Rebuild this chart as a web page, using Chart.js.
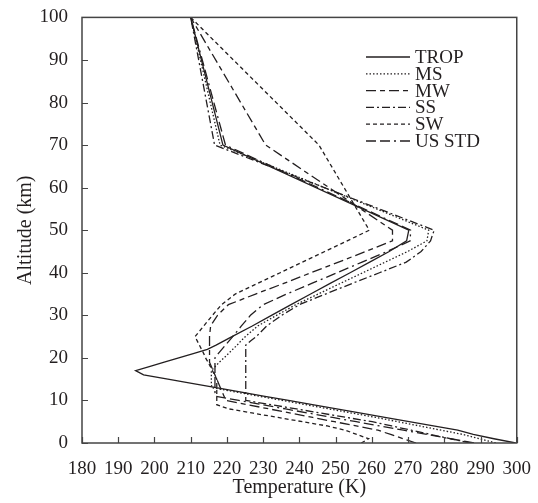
<!DOCTYPE html>
<html>
<head>
<meta charset="utf-8">
<script src="https://cdn.jsdelivr.net/npm/chart.js@4.4.1/dist/chart.umd.min.js"></script>
<style>
  body { margin: 0; background: #fff; }
  canvas { display: block; }
</style>
</head>
<body>
<canvas id="_canvasc" width="538" height="503"></canvas>
<script>
	// ******************************************************** DATA

	var altitudes = [0,1,2,3,4,5,6,7,8,9,10,11,12,13,14,15,16,17,18,19,20,21,22,23,24,25,
		27.5,30,32.5,35,37.5,40,42.5,45,47.5,50,70,100];

	var trop  = [299.7,293.7,288.0,283.7,277.0,270.3,263.6,257.0,250.3,243.6,237.0,230.1,223.6,217.0,210.3,203.7,197.0,194.8,198.8,202.7,
		206.7,210.7,214.6,217.0,219.2,221.4,227.0,232.3,237.7,243.1,248.5,254.0,259.4,264.8,269.6,270.2,218.9,210];
	var ms    = [294.2,289.7,285.2,279.2,273.2,267.2,261.2,254.7,248.2,241.7,235.3,228.8,222.3,215.8,215.7,215.7,215.7,215.7,216.8,217.9,
		219.2,220.4,221.6,222.8,223.9,225.1,228.5,233.7,239.0,245.2,251.3,257.5,263.7,269.9,275.2,275.7,218.1,210];
	var mw    = [272.2,268.7,265.2,261.7,255.7,249.7,243.7,237.7,231.7,225.7,219.7,219.2,218.7,218.2,217.7,217.2,216.7,216.2,215.7,215.2,
		215.2,215.2,215.2,215.2,215.2,215.2,215.5,217.4,220.4,227.9,235.7,243.2,250.8,258.3,265.7,265.7,230.7,210];
	var ss    = [287.2,281.7,276.3,270.9,265.5,260.1,253.1,246.1,239.2,232.2,225.2,225.2,225.2,225.2,225.2,225.2,225.2,225.2,225.2,225.2,
		225.2,225.2,225.2,225.2,226.6,228.1,231.0,235.1,240.0,247.2,254.6,262.1,269.5,273.6,276.2,277.2,216.6,210];
	var sw    = [257.1,259.1,255.9,252.7,247.7,240.9,234.1,227.3,220.6,217.2,217.2,217.2,217.2,217.2,217.2,217.2,216.6,216.0,215.4,214.8,
		214.1,213.6,213.0,212.4,211.8,211.2,213.6,216.0,218.5,222.3,228.5,234.7,240.8,247.0,253.2,259.3,245.4,210];
	var usstd = [288.2,281.7,275.2,268.7,262.2,255.7,249.2,242.7,236.2,229.7,223.3,216.8,216.7,216.7,216.7,216.7,216.7,216.7,216.7,216.7,
		216.7,217.6,218.6,219.6,220.6,221.6,224.0,226.5,230.0,236.5,243.4,250.4,257.3,264.2,270.6,270.7,219.6,210];

	var seriesNames = ["TROP","MS","MW","SS","SW","US STD"];
	var seriesTemps = [trop, ms, mw, ss, sw, usstd];
	var seriesDash  = [[], [1.5,2], [10,4,5,4], [8,3,2,3], [4,3], [10,4,10,4,2,4]];

	var ink = "#231f20";
	var font = "Liberation Serif";

	// ******************************************************** PLUGIN (frame, inward ticks, legend)

	var framePlugin = {
		id: 'frame',
		afterDraw: function(chart) {
			var ctx = chart.ctx, a = chart.chartArea;
			var sx = chart.scales.x, sy = chart.scales.y;
			ctx.save();
			ctx.strokeStyle = "#444";
			ctx.lineWidth = 1.5;
			ctx.strokeRect(a.left, a.top, a.right - a.left, a.bottom - a.top);

			ctx.lineWidth = 1.2;
			ctx.beginPath();
			sx.ticks.forEach(function(t) {
				var px = Math.round(sx.getPixelForValue(t.value)) + 0.5;
				ctx.moveTo(px, a.bottom); ctx.lineTo(px, a.bottom - 6);
			});
			sy.ticks.forEach(function(t) {
				var py = Math.round(sy.getPixelForValue(t.value)) + 0.5;
				ctx.moveTo(a.left, py); ctx.lineTo(a.left + 6, py);
			});
			ctx.stroke();

			// legend
			ctx.font = "19px '" + font + "'";
			ctx.textBaseline = "middle";
			ctx.fillStyle = ink;
			chart.data.datasets.forEach(function(ds, i) {
				var y = 57 + i * 16.8;
				ctx.strokeStyle = ink;
				ctx.lineWidth = 1.3;
				ctx.setLineDash(ds.borderDash);
				ctx.beginPath();
				ctx.moveTo(366, y); ctx.lineTo(410, y);
				ctx.stroke();
				ctx.setLineDash([]);
				ctx.fillText(ds.label, 415, y + 1);
			});
			ctx.restore();
		}
	};

	// ******************************************************** CHART

	var datasets = seriesNames.map(function(name, i) {
		return {
			label: name,
			data: altitudes.map(function(h, k) { return { x: seriesTemps[i][k], y: h }; }),
			borderColor: ink,
			borderWidth: 1.3,
			borderDash: seriesDash[i],
			pointRadius: 0,
			fill: false,
			tension: 0
		};
	});

	var config = {
		type: 'line',
		data: { datasets: datasets },
		options: {
			responsive: false,
			animation: false,
			layout: { padding: { top: 15, right: 17, left: 0, bottom: 0 } },
			plugins: { legend: { display: false }, tooltip: { enabled: false } },
			scales: {
				x: {
					type: 'linear', min: 180, max: 300,
					grid: { display: false }, border: { display: false },
					ticks: { stepSize: 10, padding: 7, color: ink, font: { family: font, size: 19 }, maxRotation: 0 },
					title: { display: true, text: 'Temperature (K)', color: ink, font: { family: font, size: 20 }, padding: { top: 0, bottom: 3 } },
					afterFit: function(s) { s.height = 60; }
				},
				y: {
					type: 'linear', min: 0, max: 100,
					grid: { display: false }, border: { display: false },
					ticks: { stepSize: 10, padding: 6, color: ink, font: { family: font, size: 19 } },
					title: { display: true, text: 'Altitude (km)', color: ink, font: { family: font, size: 20 }, padding: { top: 14, bottom: 0 } },
					afterFit: function(s) { s.width = 82; }
				}
			}
		},
		plugins: [framePlugin]
	};

	var _ctxc = document.getElementById("_canvasc").getContext("2d");
	window.myProfiles = new Chart(_ctxc, config);
</script>
</body>
</html>
